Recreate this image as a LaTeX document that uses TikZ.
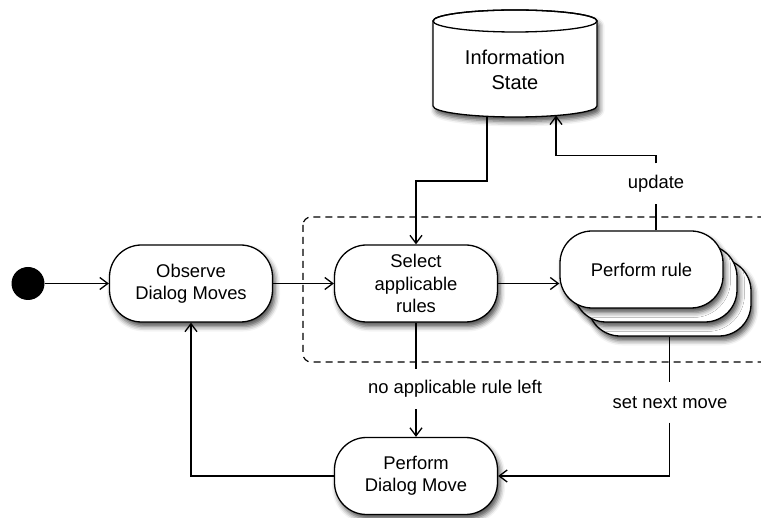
\documentclass[tikz,border=0pt]{standalone}
\usepackage{fontspec}
\setmainfont{Liberation Sans}
\usetikzlibrary{arrows.meta,shadows.blur,calc}
\begin{document}
\begin{tikzpicture}[x=1pt,y=1pt,
  font=\fontsize{18.4}{22.5}\selectfont,
  softshadow/.style={blur shadow={shadow xshift=2.5pt, shadow yshift=-4.5pt, shadow blur radius=5pt, shadow opacity=70}},
  state/.style={draw, line width=1.3pt, fill=white, rounded corners=32pt,
    minimum width=163pt, minimum height=77pt, inner sep=0pt, align=center, softshadow},
  conn/.style={line width=1.3pt},
  arr/.style={conn, -{Straight Barb[length=8pt,width=12pt,line width=1.3pt]}},
  lab/.style={inner xsep=2pt, inner ysep=0pt, minimum height=40pt},
  groupbox/.style={draw, line width=1.2pt, dash pattern=on 7pt off 5pt, rounded corners=8pt},
]
\useasboundingbox (0,0) rectangle (761,-518);

% dashed group
\draw[groupbox] (303,-217) rectangle (800,-362);

% information state cylinder
\path[draw, line width=1.3pt, fill=white, softshadow]
  (433,-21) -- (433,-106) arc[start angle=180, end angle=360, x radius=82pt, y radius=11pt]
  -- (597,-21) arc[start angle=0, end angle=180, x radius=82pt, y radius=11pt] -- cycle;
\draw[line width=1.3pt] (515,-21) ellipse[x radius=82pt, y radius=11pt];
\node[align=center, font=\fontsize{20}{25}\selectfont] (info) at (515,-69.5) {Information\\State};
\coordinate (cylA) at (487,-116.5);
\coordinate (cylB) at (556,-115.5);

% states
\node[circle, fill=black, minimum size=33pt, inner sep=0pt] (start) at (28,-283.5) {};
\node[state] (observe) at (191,-283.5) {Observe\\Dialog Moves};
\node[state] (select) at (416,-283.5) {Select\\applicable\\rules};
\node[state] (back2) at (669.5,-297.5) {};
\node[state] (back1) at (655.5,-283.5) {};
\node[state] (front) at (641.5,-269.5) {Perform rule};
\node[state] (pdm) at (416,-476) {Perform\\Dialog Move};

% labels
\node[lab] (updlab) at (656,-183.5) {update};
\node[lab] (nolab) at (455,-389) {no applicable rule left};
\node[lab] (setlab) at (670,-402.5) {set next move};

% connectors
\draw[arr] (start) -- (observe);
\draw[arr] (observe) -- (select);
\draw[arr] (select.east) -- (select.east -| front.west);
\draw[arr] (cylA) -- ++(0,-64.5) -| (select.north);
\draw[conn] (front.north -| updlab) -- (updlab.south);
\draw[arr] (updlab.north) -- ++(0,7.5) -| (cylB);
\draw[conn] (select.south) -- (select.south |- nolab.north);
\draw[arr] (select.south |- nolab.south) -- (pdm.north);
\draw[conn] (back2.south) -- (back2.south |- setlab.north);
\draw[arr] (back2.south |- setlab.south) |- (pdm.east);
\draw[arr] (pdm.west) -| (observe.south);
\end{tikzpicture}
\end{document}
